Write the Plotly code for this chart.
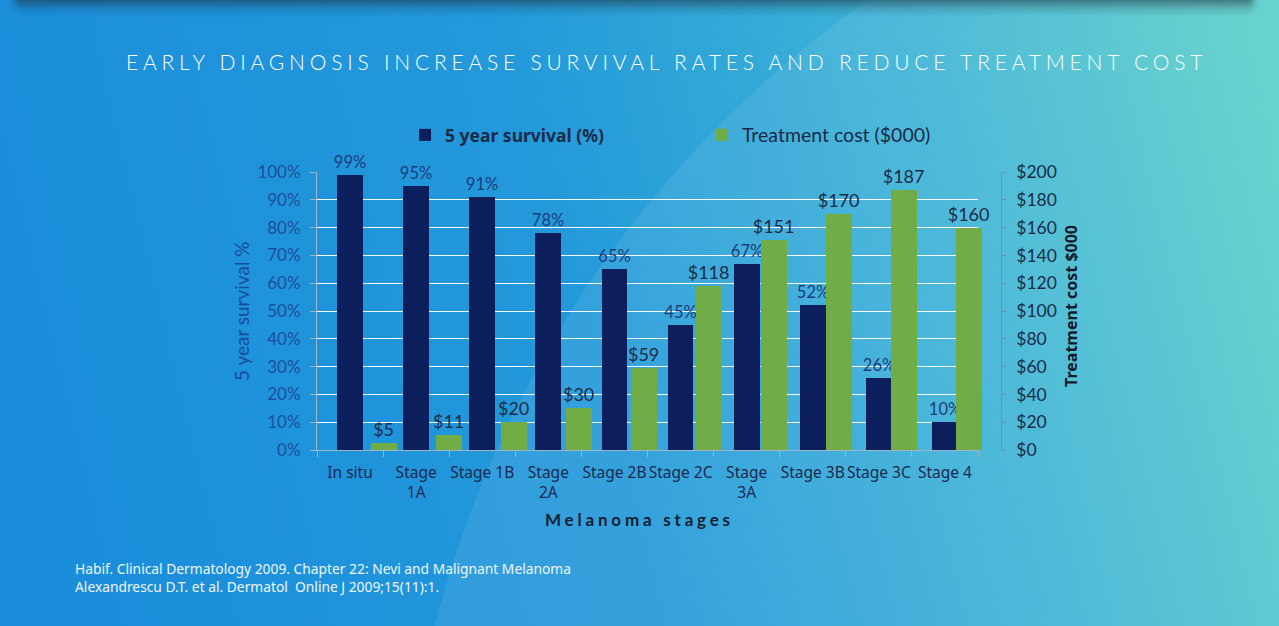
import base64
import plotly.graph_objects as go

# ---------------- data ----------------
stages = ["In situ", "Stage<br>1A", "Stage 1B", "Stage<br>2A", "Stage 2B",
          "Stage 2C", "Stage<br>3A", "Stage 3B", "Stage 3C", "Stage 4"]
survival_pct = [99, 95, 91, 78, 65, 45, 67, 52, 26, 10]
cost_k = [5, 11, 20, 30, 59, 118, 151, 170, 187, 160]
survival_ticks = [0, 10, 20, 30, 40, 50, 60, 70, 80, 90, 100]
survival_ticktext = ["0%", "10%", "20%", "30%", "40%", "50%", "60%", "70%", "80%", "90%", "100%"]
cost_ticks = [0, 20, 40, 60, 80, 100, 120, 140, 160, 180, 200]
cost_ticktext = ["$0", "$20", "$40", "$60", "$80", "$100", "$120", "$140", "$160", "$180", "$200"]

title_text = "EARLY DIAGNOSIS INCREASE SURVIVAL RATES AND REDUCE TREATMENT COST"
source_lines = ["Habif. Clinical Dermatology 2009. Chapter 22: Nevi and Malignant Melanoma",
                "Alexandrescu D.T. et al. Dermatol  Online J 2009;15(11):1."]

survival_labels = [f"{v}%" for v in survival_pct]
cost_labels = [f"${v}" for v in cost_k]

W, H = 1279, 626
def px(x):
    return x / W
def py(y):
    return 1 - y / H

# ---------------- background (decoration) ----------------
svg = f'''<svg xmlns="http://www.w3.org/2000/svg" width="{W}" height="{H}" viewBox="0 0 {W} {H}" preserveAspectRatio="none">
<defs>
<linearGradient id="g" x1="0" y1="{H*0.75}" x2="{W}" y2="{H*0.25}" gradientUnits="userSpaceOnUse">
<stop offset="0" stop-color="#1a8cdb"/>
<stop offset="0.45" stop-color="#2399da"/>
<stop offset="0.75" stop-color="#3fb4d6"/>
<stop offset="1" stop-color="#5ccfca"/>
</linearGradient>
<linearGradient id="s" x1="0" y1="0" x2="0" y2="1">
<stop offset="0" stop-color="#1c2630" stop-opacity="0.85"/>
<stop offset="0.5" stop-color="#1c2630" stop-opacity="0.35"/>
<stop offset="1" stop-color="#1c2630" stop-opacity="0"/>
</linearGradient>
<filter id="b"><feGaussianBlur stdDeviation="3"/></filter>
</defs>
<rect x="0" y="0" width="{W}" height="{H}" fill="url(#g)"/>
<circle cx="1500" cy="900" r="1100" fill="#ffffff" fill-opacity="0.08"/>
<rect x="14" y="-8" width="1240" height="22" rx="8" fill="url(#s)" filter="url(#b)"/>
</svg>'''
bg_src = "data:image/svg+xml;base64," + base64.b64encode(svg.encode()).decode()

NAVY = "#0c1f5c"
GREEN = "#70ad47"

fig = go.Figure()
fig.add_trace(go.Bar(
    x=stages, y=survival_pct, xaxis="x", yaxis="y",
    name="<b>5 year survival (%)</b>", legend="legend",
    marker=dict(color=NAVY, line=dict(width=0)), width=0.39,
    text=survival_labels, texttemplate="%{text}", textposition="outside",
    constraintext="none", cliponaxis=False,
    textfont=dict(family="Lato, sans-serif", size=16.5, color="#1d3c7c"),
    hoverinfo="skip"))
fig.add_trace(go.Bar(
    x=stages, y=cost_k, xaxis="x2", yaxis="y2",
    name="Treatment cost ($000)", legend="legend2",
    marker=dict(color=GREEN, line=dict(width=0)), width=0.40,
    text=cost_labels, texttemplate="%{text}", textposition="outside",
    constraintext="none", cliponaxis=False,
    textfont=dict(family="Lato, sans-serif", size=18, color="#1c2c48"),
    hoverinfo="skip"))

y_dom = [py(450), py(172)]
fig.update_layout(
    width=W, height=H,
    margin=dict(l=0, r=0, t=0, b=0, pad=0, autoexpand=False),
    paper_bgcolor="#1e93da", plot_bgcolor="rgba(0,0,0,0)",
    bargap=0,
    images=[dict(source=bg_src, xref="paper", yref="paper", x=0, y=1,
                 sizex=1, sizey=1, xanchor="left", yanchor="top",
                 sizing="stretch", layer="below")],
    xaxis=dict(domain=[px(317), px(978)], anchor="y", type="category",
               categoryorder="array", categoryarray=stages,
               showline=True, linecolor="#9fb4c4", linewidth=1,
               ticks="outside", tickson="boundaries", ticklen=6, tickcolor="#9fb4c4",
               tickangle=0, showgrid=False, automargin=False, ticklabelstandoff=8,
               tickfont=dict(family="Noto Sans, sans-serif", size=15.5, color="#1a2a50")),
    xaxis2=dict(domain=[px(351.6), px(1000.6)], anchor="y2", type="category",
                categoryorder="array", categoryarray=stages, visible=False),
    yaxis=dict(domain=y_dom, anchor="x", range=[0, 100], tickvals=survival_ticks,
               ticktext=survival_ticktext, automargin=False, ticklabelstandoff=6,
               showline=True, linecolor="#9fb4c4", linewidth=1,
               ticks="outside", ticklen=6, tickcolor="#9fb4c4",
               showgrid=True, gridcolor="rgba(255,255,255,0.95)", gridwidth=1.2,
               zeroline=False,
               tickfont=dict(family="Lato, sans-serif", size=17, color="#1d4f9c")),
    yaxis2=dict(domain=y_dom, anchor="x2", side="right", range=[0, 200],
                tickvals=cost_ticks, ticktext=cost_ticktext, automargin=False,
                ticklabelstandoff=7,
                showline=True, linecolor="#7592a2", linewidth=1.3,
                ticks="outside", ticklen=4, tickcolor="#7592a2",
                showgrid=False, zeroline=False,
                tickfont=dict(family="Lato, sans-serif", size=17.5, color="#1c2c48")),
    legend=dict(x=px(405), y=py(135), xanchor="left", yanchor="middle",
                orientation="h", bgcolor="rgba(0,0,0,0)",
                font=dict(family="Noto Sans, sans-serif", size=17.5, color="#1a2a48")),
    legend2=dict(x=px(702), y=py(135), xanchor="left", yanchor="middle",
                 orientation="h", bgcolor="rgba(0,0,0,0)",
                 font=dict(family="Lato, sans-serif", size=19.5, color="#1a2a48")),
    showlegend=True,
)

annotations = [
    dict(text=f'<span style="letter-spacing:4.8px">{title_text}</span>',
         x=px(666), y=py(62), xref="paper", yref="paper",
         xanchor="center", yanchor="middle", showarrow=False,
         font=dict(family="Lato, sans-serif", size=21, color="#ffffff", weight=300)),
    dict(text='<span style="letter-spacing:3.8px"><b>Melanoma stages</b></span>',
         x=px(639), y=py(519), xref="paper", yref="paper",
         xanchor="center", yanchor="middle", showarrow=False,
         font=dict(family="Lato, sans-serif", size=17, color="#161d33")),
    dict(text="5 year survival %", x=px(241), y=py(311), xref="paper", yref="paper",
         xanchor="center", yanchor="middle", showarrow=False, textangle=-90,
         font=dict(family="Lato, sans-serif", size=19, color="#1a4c9c")),
    dict(text="<b>Treatment cost $000</b>", x=px(1071), y=py(306), xref="paper", yref="paper",
         xanchor="center", yanchor="middle", showarrow=False, textangle=-90,
         font=dict(family="Noto Sans, sans-serif", size=16, color="#121a2c")),
    dict(text="<br>".join(source_lines), x=px(73), y=py(577), xref="paper", yref="paper",
         xanchor="left", yanchor="middle", align="left", showarrow=False,
         font=dict(family="Noto Sans, sans-serif", size=13.8, color="#eef6ff")),
]
fig.update_layout(annotations=annotations)

fig.write_html("out.html")
